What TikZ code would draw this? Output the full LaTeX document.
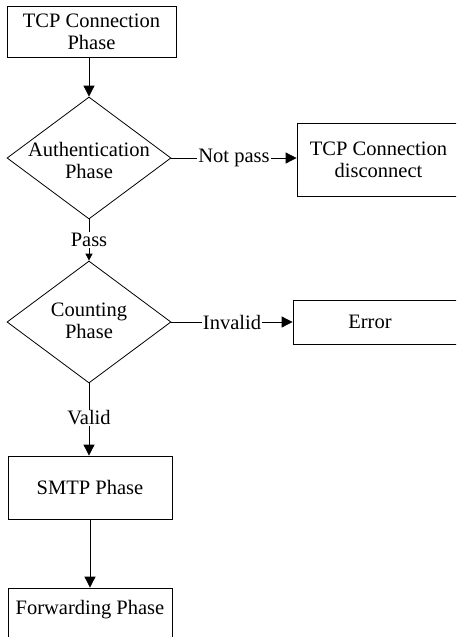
\documentclass[tikz,border=0pt]{standalone}
\usepackage{fontspec}
\setmainfont{Liberation Serif}
\usetikzlibrary{shapes.geometric,arrows.meta}
\begin{document}
\begin{tikzpicture}[x=1pt,y=-1pt,
  every node/.style={font=\fontsize{20.5}{22}\selectfont, align=center},
  box/.style={draw=black, line width=0.8pt, rectangle, inner sep=0pt},
  decision/.style={draw=black, line width=0.8pt, diamond, inner sep=0pt, minimum width=164pt, minimum height=122pt},
  lbl/.style={fill=white, inner sep=1pt},
  arr/.style={line width=0.8pt, -{Triangle[length=11pt,width=11pt]}},
  arrsmall/.style={line width=0.8pt, -{Triangle[length=7pt,width=7pt]}},
  plain/.style={line width=0.8pt}]
\useasboundingbox (0,0) rectangle (456,637);
\begin{scope}
\clip (0,0) rectangle (456,637);
% nodes
\node[box, minimum width=169pt, minimum height=51pt] (tcp) at (91.5,31.5) {TCP Connection\\Phase};
\node[decision] (d1) at (89,158) {};
\node (d1t) at (89,160) {Authentication\\Phase};
\node[inner sep=1pt] (pass) at (89,240) {Pass};
\node[decision] (d2) at (89,322) {};
\node (d2t) at (89,321) {Counting\\Phase};
\node[inner sep=1pt] (valid) at (89,418) {Valid};
\node[box, minimum width=164pt, minimum height=63pt] (smtp) at (90,487.5) {SMTP Phase};
\node[box, minimum width=164pt, minimum height=72pt] (fwd) at (90,624) {};
\node (fwdt) at (90,610) {Forwarding Phase};
\node[box, minimum width=163pt, minimum height=73pt] (disc) at (378.5,159.5) {TCP Connection\\disconnect};
\node[box, minimum width=167pt, minimum height=44pt] (err) at (376.5,322) {};
\node (errt) at (370,322) {Error};
% connectors
\draw[arr] (tcp.south -| d1.north) -- (d1.north);
\draw[plain] (d1.south) -- (pass.north);
\draw[arrsmall] (pass.south) -- (d2.north);
\draw[plain] (d2.south) -- (valid.north);
\draw[arr] (valid.south) -- (valid.south |- smtp.north);
\draw[arr] (smtp.south) -- (fwd.north);
\draw[arr] (d1.east) -- node[lbl] {Not pass} (d1.east -| disc.west);
\draw[arr] (d2.east) -- node[lbl] {Invalid} (d2.east -| err.west);
\end{scope}
\end{tikzpicture}
\end{document}
